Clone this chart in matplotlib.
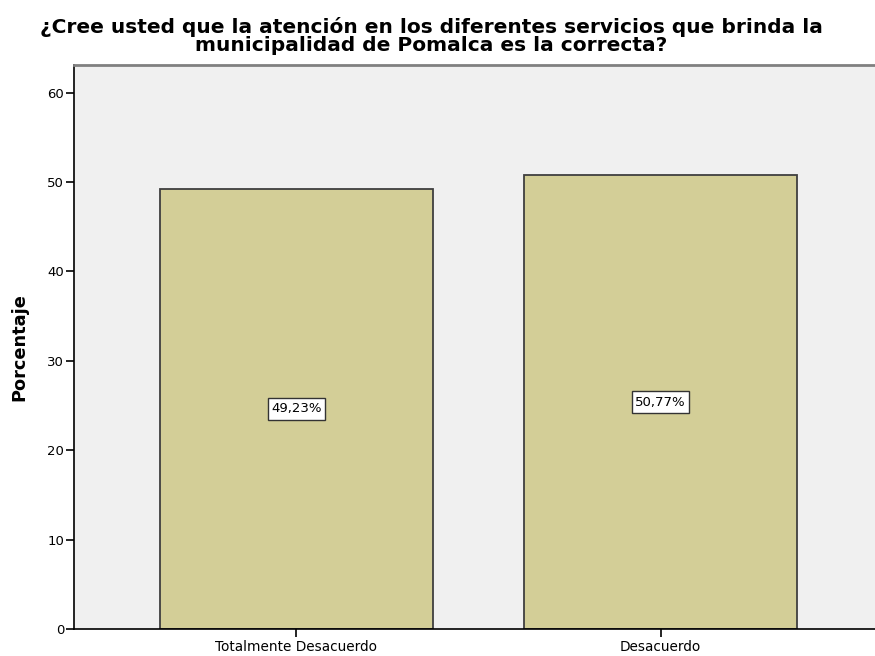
import matplotlib
matplotlib.use("Agg")
import matplotlib.pyplot as plt
from matplotlib.patches import Rectangle

categorias = ["Totalmente Desacuerdo", "Desacuerdo"]
porcentajes = [49.23, 50.77]
etiquetas = ["49,23%", "50,77%"]

plt.rcParams['font.family'] = ['DejaVu Sans']

fig = plt.figure(figsize=(8.75, 6.56), dpi=100)
ax = fig.add_axes([74/875, 1 - 629/656, 1 - 74/875, (629 - 65)/656])
ax.set_facecolor("#f0f0f0")

x = range(len(categorias))
ax.bar(x, porcentajes, width=0.75, color="#d3ce97", edgecolor="#3f3f3f", linewidth=1.3)

ax.set_xlim(-0.611, 1.589)
ax.set_ylim(0, 63.1)
ax.set_yticks([0, 10, 20, 30, 40, 50, 60])
ax.set_xticks(list(x))
ax.set_xticklabels(categorias, fontsize=9.8)
ax.tick_params(axis="y", labelsize=9.5, length=6, width=1.2, pad=1)
ax.tick_params(axis="x", length=6, width=1.2, pad=2)

ax.spines["right"].set_visible(False)
ax.spines["top"].set_color("#808080")
ax.spines["top"].set_linewidth(2)
ax.spines["left"].set_linewidth(1.2)
ax.spines["bottom"].set_linewidth(1.2)

ax.set_ylabel("Porcentaje", fontsize=12.8, fontweight="bold", labelpad=14)
fig.text(0.493, 1 - 36/656, "¿Cree usted que la atención en los diferentes servicios que brinda la\nmunicipalidad de Pomalca es la correcta?",
         ha="center", va="center", fontsize=14.5, fontweight="bold", linespacing=0.9)

# etiquetas con caja blanca (mas alta que ancha de margen)
textos = []
for i, v in enumerate(porcentajes):
    t = ax.text(i, v / 2, etiquetas[i], ha="center", va="center", fontsize=9.5, zorder=5)
    textos.append(t)

fig.canvas.draw()
r = fig.canvas.get_renderer()
inv = ax.transData.inverted()
for t in textos:
    bb = t.get_window_extent(r)
    x0, y0 = inv.transform((bb.x0 - 3.5, bb.y0 - 4.5))
    x1, y1 = inv.transform((bb.x1 + 3.5, bb.y1 + 4.5))
    ax.add_patch(Rectangle((x0, y0), x1 - x0, y1 - y0, facecolor="white",
                           edgecolor="#333333", linewidth=1, zorder=4))

fig.savefig("out.png", dpi=100)
